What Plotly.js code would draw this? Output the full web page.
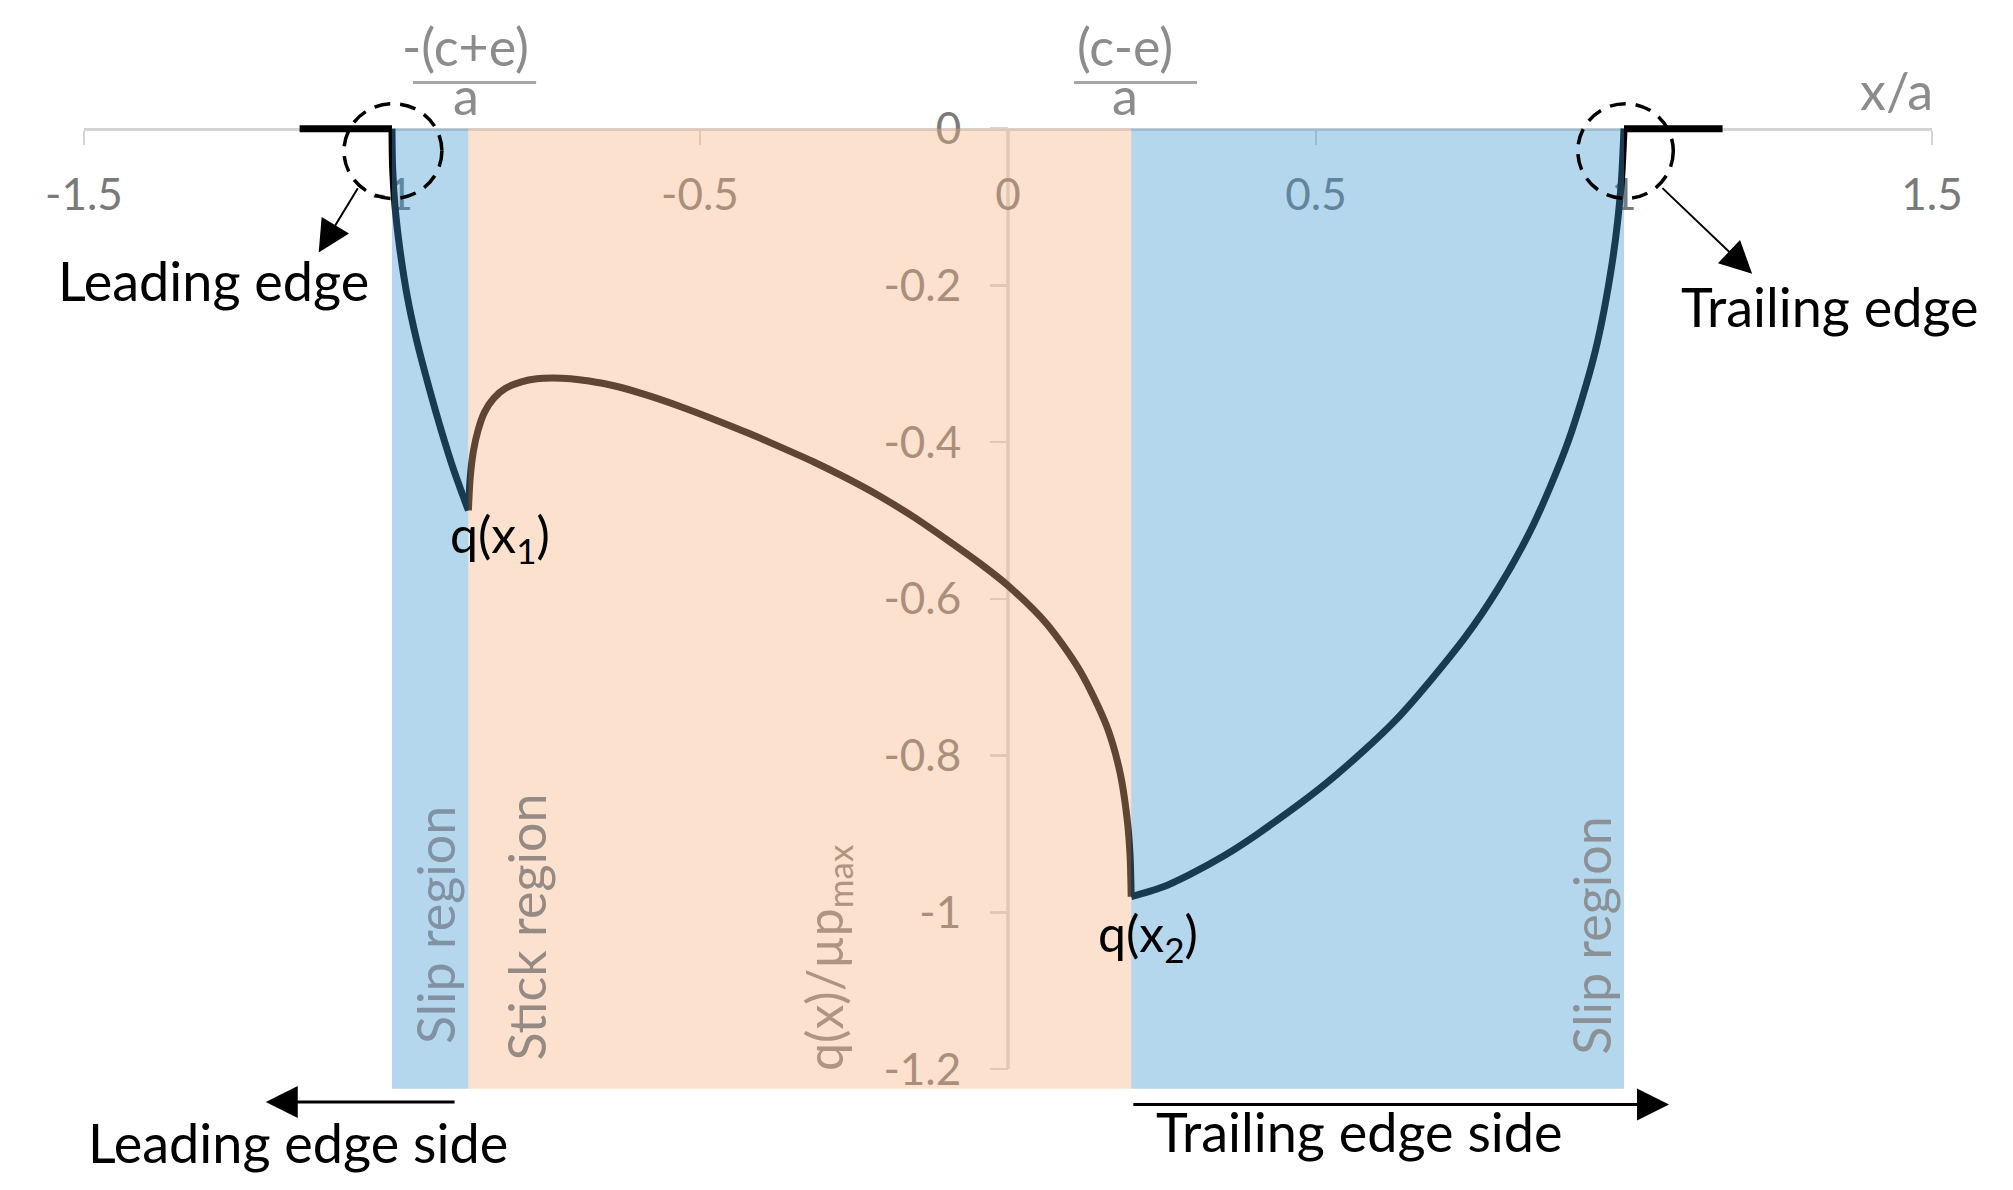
<!DOCTYPE html>
<html>
<head>
<meta charset="utf-8">
<script src="https://cdn.plot.ly/plotly-3.0.1.min.js"></script>
<style>
  html, body { margin: 0; padding: 0; background: #fff; }
  #chart { width: 2013px; height: 1190px; }
</style>
</head>
<body>
<div id="chart"></div>
<script>
// x/a and q(x)/up_max
var leadX = [-1.15, -1.0]
var leadY = [0, 0]

var slipLeftX = [-1.0, -0.999, -0.995, -0.987, -0.975, -0.96, -0.94, -0.92, -0.9, -0.876]
var slipLeftY = [0, -0.05, -0.10, -0.155, -0.215, -0.27, -0.33, -0.385, -0.435, -0.487]

var stickX = [-0.876, -0.873, -0.868, -0.86, -0.85, -0.835, -0.815, -0.79, -0.765, -0.74, -0.71,
              -0.68, -0.64, -0.59, -0.53, -0.48, -0.42, -0.37, -0.316, -0.262, -0.208, -0.154,
              -0.1, -0.045, 0.0, 0.063, 0.117, 0.16, 0.182, 0.193, 0.198, 0.2]
var stickY = [-0.487, -0.445, -0.412, -0.384, -0.362, -0.344, -0.331, -0.323, -0.319, -0.318, -0.319,
              -0.322, -0.328, -0.339, -0.355, -0.370, -0.389, -0.406, -0.425, -0.446, -0.469, -0.495,
              -0.524, -0.555, -0.583, -0.632, -0.692, -0.762, -0.822, -0.878, -0.925, -0.98]

var slipRightX = [0.2, 0.25, 0.294, 0.35, 0.405, 0.517, 0.629, 0.741, 0.797, 0.853, 0.909, 0.953, 0.981, 0.995, 1.0]
var slipRightY = [-0.98, -0.968, -0.952, -0.928, -0.9, -0.835, -0.755, -0.65, -0.585, -0.505, -0.4, -0.285, -0.17, -0.075, 0]

var trailX = [1.0, 1.16]
var trailY = [0, 0]

// leading slip | stick | trailing slip
var regionEdges = [-1.0, -0.876, 0.2, 1.0]
var regionKind = ['slip', 'stick', 'slip']
var regionBottom = -1.225

var xTicks = [-1.5, -1, -0.5, 0, 0.5, 1, 1.5]
var xTickText = ['-1.5', '-1', '-0.5', '0', '0.5', '1', '1.5']
var yTicks = [0, -0.2, -0.4, -0.6, -0.8, -1, -1.2]
var yTickText = ['0', '-0.2', '-0.4', '-0.6', '-0.8', '-1', '-1.2']

var F = 'Lato, "Open Sans", sans-serif'
var yRange = [-1.33, 0.14]
var fills = { slip: 'rgb(62,152,211)', stick: 'rgb(248,177,128)' }

function seg(x, y) {
  return { x: x, y: y, mode: 'lines', line: { color: '#000', width: 7, shape: 'spline', smoothing: 0.8 },
    hoverinfo: 'skip', showlegend: false }
}
var traces = [
  seg(leadX, leadY),
  seg(slipLeftX, slipLeftY),
  seg(stickX, stickY),
  seg(slipRightX, slipRightY),
  seg(trailX, trailY)
]

var shapes = []
// y axis line (under the shading so it gets tinted)
shapes.push({ type: 'line', layer: 'below', xref: 'x', yref: 'y', x0: 0, x1: 0, y0: 0, y1: -1.2,
  line: { color: '#d4d4d4', width: 3.5 } })
for (var i = 0; i < regionKind.length; i++) {
  shapes.push({ type: 'rect', layer: 'above', xref: 'x', yref: 'y',
    x0: regionEdges[i], x1: regionEdges[i + 1], y0: regionBottom, y1: 0,
    fillcolor: fills[regionKind[i]], opacity: 0.39, line: { width: 0 } })
}
// dashed circles at the contact edges
var circ = { type: 'circle', layer: 'above', xref: 'x', yref: 'y',
  line: { color: '#000', width: 3.5, dash: '16px,10px' } }
shapes.push(Object.assign({}, circ, { x0: -1.078, x1: -0.919, y0: -0.089, y1: 0.032 }))
shapes.push(Object.assign({}, circ, { x0: 0.925, x1: 1.08, y0: -0.089, y1: 0.032 }))
// fraction bars
shapes.push({ type: 'line', layer: 'above', xref: 'x', yref: 'y', x0: -0.966, x1: -0.766, y0: 0.059, y1: 0.059,
  line: { color: '#a6a6a6', width: 3 } })
shapes.push({ type: 'line', layer: 'above', xref: 'x', yref: 'y', x0: 0.107, x1: 0.307, y0: 0.059, y1: 0.059,
  line: { color: '#a6a6a6', width: 3 } })

function note(text, x, y, size, color, angle) {
  return { text: text, x: x, y: y, xref: 'x', yref: 'y', showarrow: false,
    font: { family: F, size: size, color: color }, textangle: angle || 0 }
}
function arrow(x0, y0, x1, y1, w) {
  return { text: '', x: x1, y: y1, ax: x0, ay: y0, xref: 'x', yref: 'y', axref: 'x', ayref: 'y',
    showarrow: true, arrowhead: 2, arrowsize: 6.4 / w, arrowwidth: w, arrowcolor: '#000',
    standoff: 0, startstandoff: 0 }
}

var gray = '#8c8c8c'
var annotations = [
  note('-(c+e)', -0.881, 0.106, 52, gray),
  note('a', -0.88, 0.043, 52, gray),
  note('(c-e)', 0.19, 0.106, 52, gray),
  note('a', 0.19, 0.043, 52, gray),
  note('x/a', 1.442, 0.05, 52, gray),
  note('Leading edge', -1.29, -0.194, 54, '#000'),
  note('Trailing edge', 1.334, -0.227, 54, '#000'),
  note('Leading edge side', -1.153, -1.294, 54, '#000'),
  note('Trailing edge side', 0.571, -1.28, 54, '#000'),
  note('q(x<sub>1</sub>)', -0.825, -0.522, 50, '#000'),
  note('q(x<sub>2</sub>)', 0.227, -1.031, 50, '#000'),
  note('Slip region', -0.93, -1.016, 52, '#8193a3', -90),
  note('Stick region', -0.782, -1.019, 52, '#968a84', -90),
  note('q(x)/µp<sub>max</sub>', -0.294, -1.057, 50, '#b09482', -90),
  note('Slip region', 0.946, -1.03, 52, '#8c9196', -90),
  arrow(-1.054, -0.074, -1.119, -0.158, 2),
  arrow(1.06, -0.074, 1.208, -0.185, 2),
  arrow(-0.896, -1.242, -1.205, -1.242, 3),
  arrow(0.201, -1.245, 1.073, -1.245, 3)
]

var layout = {
  width: 2013,
  height: 1190,
  margin: { l: 84, r: 81, t: 18.6, b: 18.9 },
  paper_bgcolor: '#fff',
  plot_bgcolor: 'rgba(0,0,0,0)',
  font: { family: F },
  xaxis: {
    range: [-1.5, 1.5],
    anchor: 'free',
    position: (0 - yRange[0]) / (yRange[1] - yRange[0]),
    side: 'bottom',
    layer: 'below traces',
    showline: true, linecolor: '#d4d4d4', linewidth: 3,
    ticks: 'outside', ticklen: 14, tickwidth: 2.5, tickcolor: '#d4d4d4',
    tickvals: xTicks, ticktext: xTickText,
    ticklabelstandoff: 12,
    tickfont: { family: F, size: 44, color: '#7a7a7a' },
    showgrid: false, zeroline: false
  },
  yaxis: {
    range: yRange,
    anchor: 'free',
    position: 0.5,
    side: 'left',
    layer: 'below traces',
    showline: false,
    ticks: 'outside', ticklen: 18, tickwidth: 2.5, tickcolor: '#d4d4d4',
    tickvals: yTicks, ticktext: yTickText,
    ticklabelstandoff: 20,
    tickfont: { family: F, size: 44, color: '#7a7a7a' },
    showgrid: false, zeroline: false
  },
  shapes: shapes,
  annotations: annotations
}

Plotly.newPlot('chart', traces, layout, { staticPlot: true, displayModeBar: false })
</script>
</body>
</html>
